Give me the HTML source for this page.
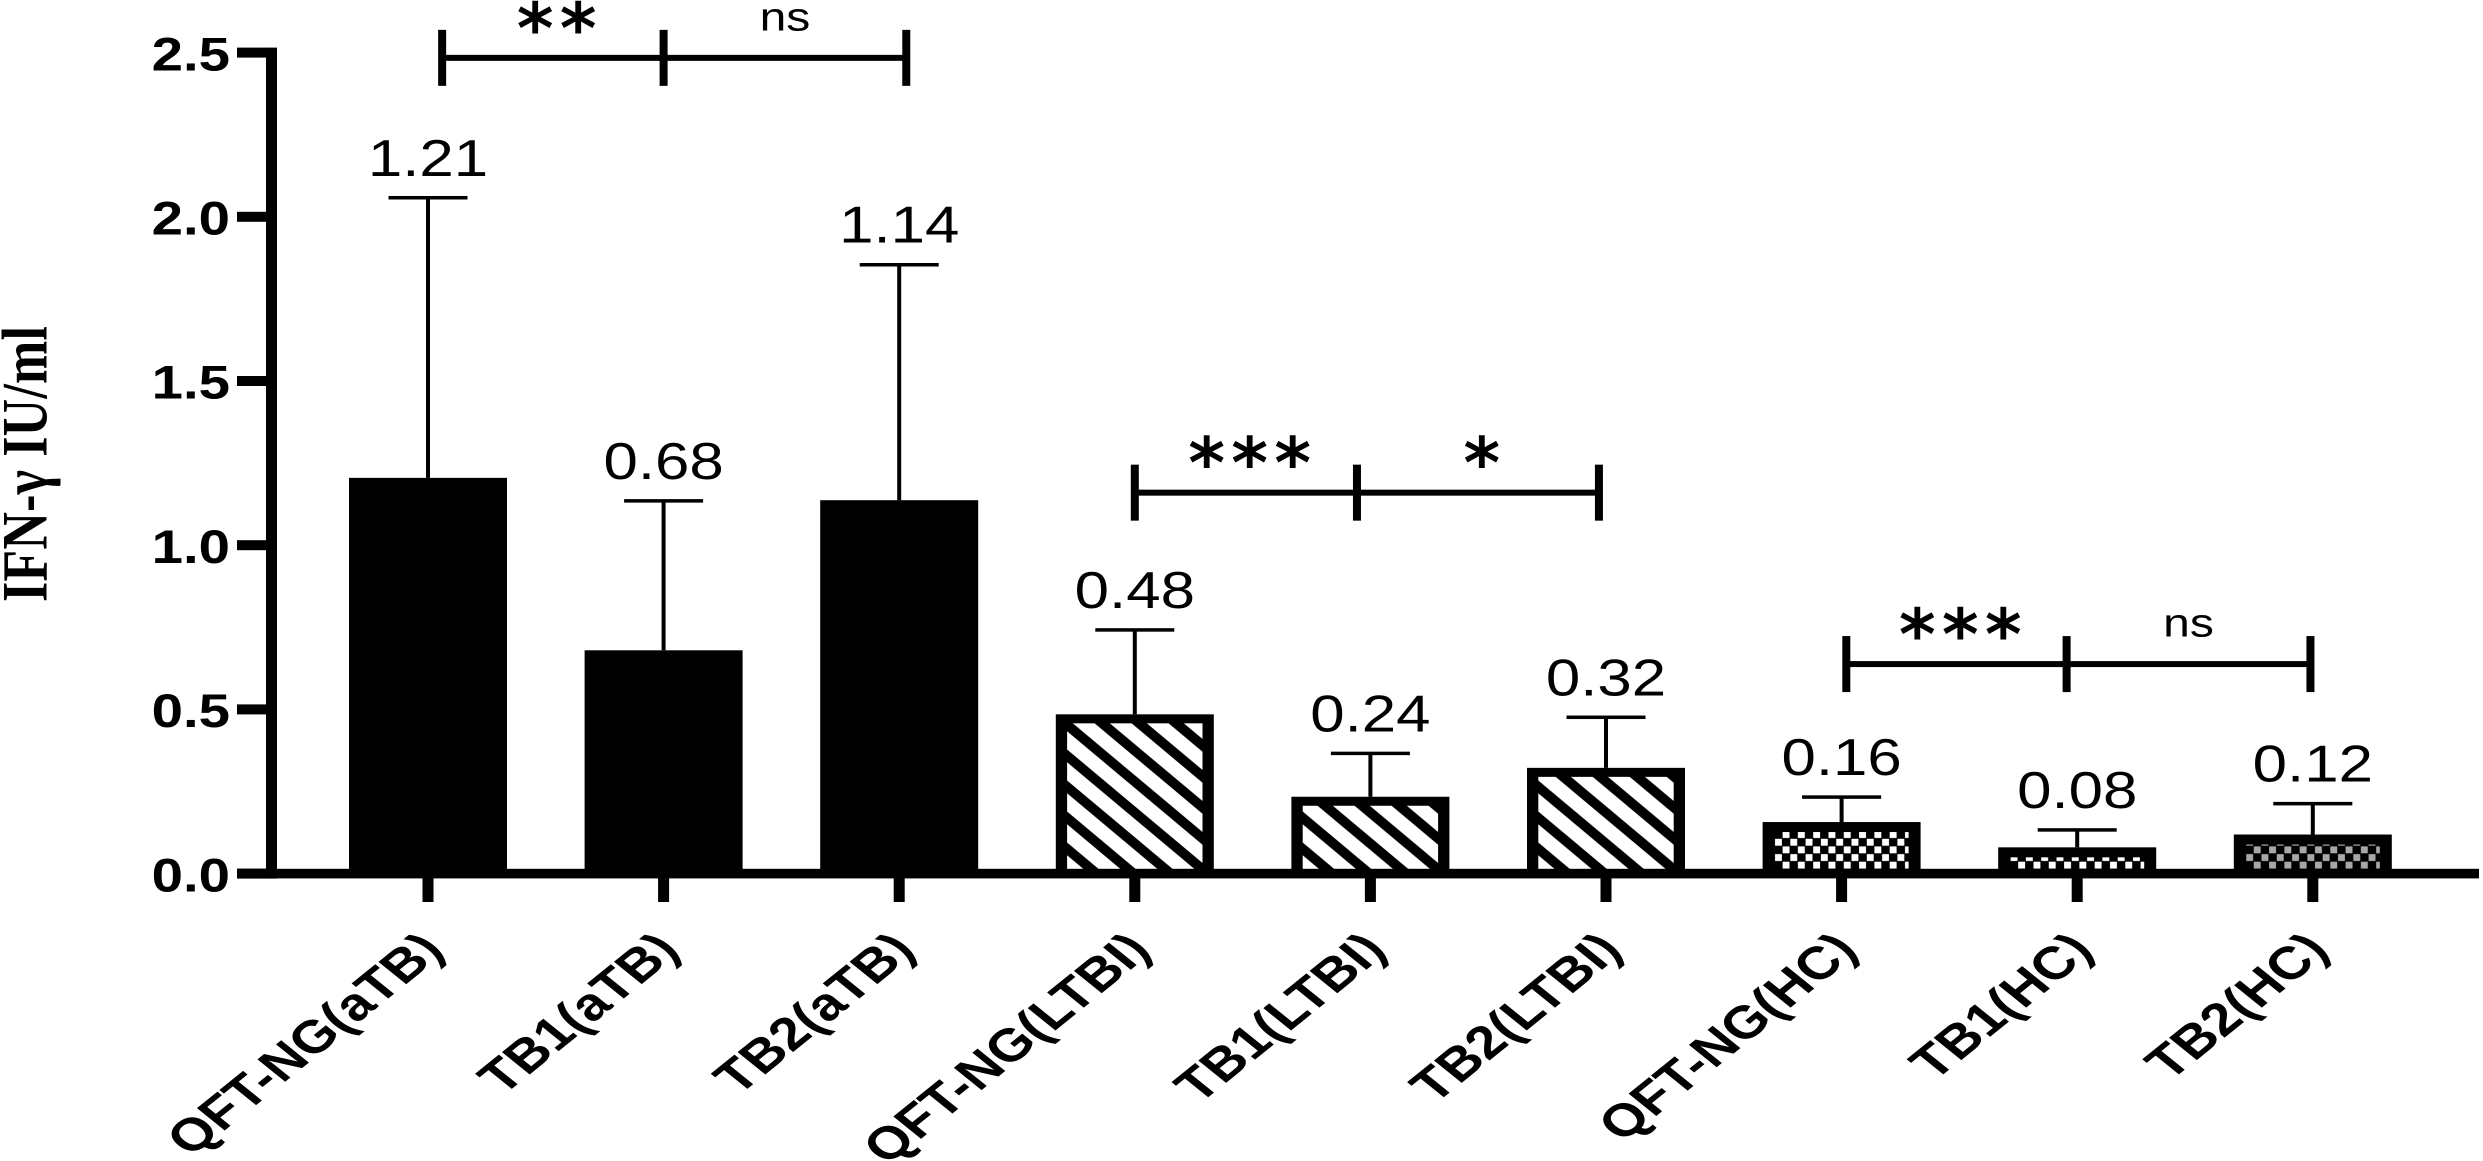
<!DOCTYPE html>
<html lang="en">
<head>
<meta charset="utf-8">
<title>IFN-γ response by assay and group</title>
<style>
  html, body { margin: 0; padding: 0; background: #fff; }
  svg { display: block; }
  text { fill: #000; }
  .tick-label { font: bold 47px "Liberation Sans", sans-serif; }
  .cat-label { font: bold 46px "Liberation Sans", sans-serif; }
  .value-label { font: 51.5px "Liberation Sans", sans-serif; }
  .ns-label { font: 40px "Liberation Sans", sans-serif; }
  .star-label { font: bold 70px "DejaVu Sans", sans-serif; letter-spacing: 6.4px; }
  .y-title { font: bold 52px "Liberation Serif", serif; }
</style>
</head>
<body>
<svg id="chart" xmlns="http://www.w3.org/2000/svg" width="2483" height="1161" viewBox="0 0 2483 1161">
  <defs>
    <pattern id="hatch" patternUnits="userSpaceOnUse" width="37" height="31" patternTransform="translate(24 0)">
      <rect width="37" height="31" fill="#fff"/>
      <path d="M-37 -31L74 62M0 -31L111 62M-74 -31L37 62" stroke="#000" stroke-width="9.8" fill="none"/>
    </pattern>
    <pattern id="check" patternUnits="userSpaceOnUse" width="15.3" height="15.3">
      <rect width="15.3" height="15.3" fill="#000"/>
      <rect x="0.4" y="0.4" width="6.9" height="6.9" fill="#fff"/>
      <rect x="8" y="8" width="6.9" height="6.9" fill="#fff"/>
    </pattern>
    <pattern id="checkgray" patternUnits="userSpaceOnUse" width="15.3" height="15.3">
      <rect width="15.3" height="15.3" fill="#000"/>
      <rect x="0.4" y="0.4" width="6.9" height="6.9" fill="#a8a8a8"/>
      <rect x="8" y="8" width="6.9" height="6.9" fill="#a8a8a8"/>
    </pattern>
  </defs>
  <rect width="2483" height="1161" fill="#fff"/>
  <text class="y-title" textLength="276" transform="translate(46.5 602) scale(1.24 1) rotate(-90)">IFN-γ IU/ml</text>
  <g id="bars"></g>
  <g id="errors"></g>
  <g id="values"></g>
  <g id="axes"></g>
  <g id="sig"></g>
</svg>
<script>
const categories = ["QFT-NG(aTB)", "TB1(aTB)", "TB2(aTB)", "QFT-NG(LTBI)", "TB1(LTBI)", "TB2(LTBI)", "QFT-NG(HC)", "TB1(HC)", "TB2(HC)"];
const means = [1.205, 0.68, 1.137, 0.485, 0.234, 0.322, 0.157, 0.08, 0.119];
const errorTops = [2.058, 1.135, 1.854, 0.742, 0.366, 0.476, 0.233, 0.133, 0.213];
const printedValues = ["1.21", "0.68", "1.14", "0.48", "0.24", "0.32", "0.16", "0.08", "0.12"];
const fillKinds = ["solid", "solid", "solid", "hatch", "hatch", "hatch", "check", "check", "checkgray"];
const yTicks = [0, 0.5, 1, 1.5, 2, 2.5];
const yTickLabels = ["0.0", "0.5", "1.0", "1.5", "2.0", "2.5"];
const bracketLevels = [2.484, 1.16, 0.638];
const bracketStarts = [0.06, 3.0, 6.02];
const bracketMids = [1, 3.943, 6.955];
const bracketEnds = [2.03, 4.97, 7.99];
const bracketLeftMarks = ["**", "***", "***"];
const bracketRightMarks = ["ns", "*", "ns"];

const NS = "http://www.w3.org/2000/svg";
const xScale = i => 428 + 235.6 * i;
const yScale = v => 873.6 - 328.4 * v;
const BAR_W = 158;
const STRETCH = 1.24;

function make(tag, parent, attrs) {
  const n = document.createElementNS(NS, tag);
  for (const k in attrs) n.setAttribute(k, attrs[k]);
  parent.appendChild(n);
  return n;
}

const barsG = document.getElementById("bars");
const errG = document.getElementById("errors");
const valG = document.getElementById("values");
const axG = document.getElementById("axes");
const sigG = document.getElementById("sig");

categories.forEach((cat, i) => {
  const cx = xScale(i);
  const top = yScale(means[i]);
  const left = cx - BAR_W / 2;
  const bar = make("rect", barsG, { x: left, y: top, width: BAR_W, height: 873.6 - top, fill: "#000" });
  
  
  if (fillKinds[i] !== "solid") {
    const hatch = fillKinds[i] === "hatch";
    const inset = hatch ? 11.3 : 12;
    const topInset = hatch ? 9 : 10;
    const innerLeft = left + inset;
    const innerBottom = 869;
    const g = make("g", barsG, { transform: "translate(" + innerLeft + " " + innerBottom + ")" });
    const h = innerBottom - (top + topInset);
    const inner = make("rect", g, { x: 0, y: -h, width: BAR_W - 2 * inset, height: h, fill: "url(#" + fillKinds[i] + ")" });
    
    
  }

  const capY = yScale(errorTops[i]);
  const stem = make("rect", errG, { x: cx - 2, y: capY, width: 4, height: top - capY, fill: "#000" });
  
  
  const cap = make("rect", errG, { x: cx - 39.5, y: capY - 1.75, width: 79, height: 3.5, fill: "#000" });
  
  

  const val = make("text", valG, { class: "value-label", "text-anchor": "middle", transform: "translate(" + cx + " " + (capY - 22) + ") scale(1.2 1)" });
  val.textContent = printedValues[i];
  
  

  const tick = make("rect", axG, { x: cx - 5.5, y: 878, width: 11, height: 24, fill: "#000" });
  
  

  const label = make("text", axG, { class: "cat-label", "text-anchor": "end", transform: "translate(" + (cx + 18) + " " + 952 + ") scale(" + STRETCH + " 1) rotate(-45)" });
  label.textContent = cat;
  
  
});

const yAxis = make("rect", axG, { x: 266, y: yScale(2.5) - 5, width: 11, height: yScale(0) - yScale(2.5) + 10, fill: "#000" });


const xAxis = make("rect", axG, { x: 237, y: yScale(0) - 4.8, width: 2242, height: 9.6, fill: "#000" });



yTicks.forEach((t, i) => {
  const y = yScale(t);
  const tick = make("rect", axG, { x: 237, y: y - 5, width: 30, height: 10, fill: "#000" });
  
  
  const lab = make("text", axG, { class: "tick-label", "text-anchor": "end", transform: "translate(230 " + (y + 17.7) + ") scale(1.2 1)" });
  lab.textContent = yTickLabels[i];
  
  
});

function placeMark(text, cx, lineY) {
  const isNs = text === "ns";
  const baseline = isNs ? lineY - 27.5 : lineY - 5;
  const m = make("text", sigG, {
    class: isNs ? "ns-label" : "star-label",
    "text-anchor": "middle",
    transform: "translate(" + (isNs ? cx : cx + 7) + " " + baseline + ")" + (isNs ? " scale(1.2 1)" : "")
  });
  m.textContent = text;
  
  
}

bracketLevels.forEach((lvl, i) => {
  const y = yScale(lvl);
  const a = xScale(bracketStarts[i]);
  const b = xScale(bracketMids[i]);
  const c = xScale(bracketEnds[i]);
  const line = make("rect", sigG, { x: a, y: y - 3, width: c - a, height: 6, fill: "#000" });
  
  
  [a, b, c].forEach(px => {
    const t = make("rect", sigG, { x: px - 4, y: y - 28, width: 8, height: 56, fill: "#000" });
    
    
  });
  placeMark(bracketLeftMarks[i], (a + b) / 2, y);
  placeMark(bracketRightMarks[i], (b + c) / 2, y);
});
</script>
</body>
</html>
